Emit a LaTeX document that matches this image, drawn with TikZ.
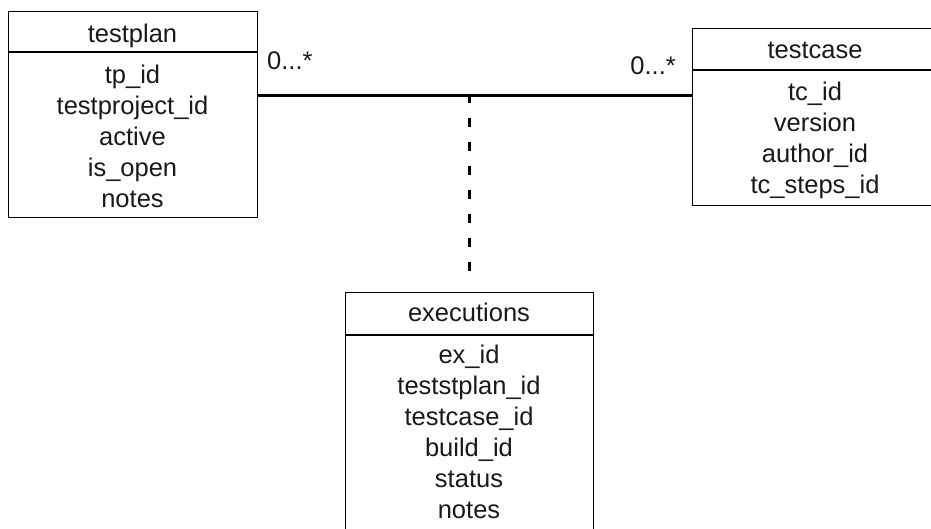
\documentclass[tikz,border=0pt]{standalone}
\usepackage{fontspec}
\setmainfont{Liberation Sans}
\begin{document}
\begin{tikzpicture}[x=1pt, y=-1pt,
  classbox/.style={draw=black, line width=1.3pt, rectangle, inner sep=0pt, anchor=north west},
  divider/.style={draw=black, line width=1.3pt},
  field/.style={anchor=base, inner sep=0pt, font=\fontsize{25.5}{30}\selectfont, text=black!90},
  assocline/.style={draw=black, line width=3.6pt},
  linkline/.style={draw=black, line width=3pt, dash pattern=on 8.5pt off 15.5pt}
]
\useasboundingbox (0,0) rectangle (931,528);
\clip (0,0) rectangle (931,528);
\fill[white] (0,0) rectangle (931,528);

% class testplan
\node[classbox, minimum width=249pt, minimum height=206pt] (tp) at (8,11) {};
\draw[divider] ([yshift=-41pt]tp.north west) -- ([yshift=-41pt]tp.north east);
\node[field] (tphead) at (132.5,42) {testplan};
\foreach \t [count=\i] in {tp\_id, testproject\_id, active, is\_open, notes}
  \node[field] (tpf\i) at (132.5,{83+31*(\i-1)}) {\t};

% class testcase
\node[classbox, minimum width=246pt, minimum height=177pt] (tc) at (692,28) {};
\draw[divider] ([yshift=-42pt]tc.north west) -- ([yshift=-42pt]tc.north east);
\node[field] (tchead) at (815,58) {testcase};
\foreach \t [count=\i] in {tc\_id, version, author\_id, tc\_steps\_id}
  \node[field] (tcf\i) at (815,{100+31*(\i-1)}) {\t};

% class executions
\node[classbox, minimum width=248pt, minimum height=260pt] (ex) at (345,292) {};
\draw[divider] ([yshift=-43pt]ex.north west) -- ([yshift=-43pt]ex.north east);
\node[field] (exhead) at (469,321) {executions};
\foreach \t [count=\i] in {ex\_id, teststplan\_id, testcase\_id, build\_id, status, notes}
  \node[field] (exf\i) at (469,{363+31*(\i-1)}) {\t};

% association testplan -- testcase with its association class
\coordinate (assoc) at (469,95.5);
\coordinate (linkend) at (469,271);
\draw[assocline] (assoc -| tp.east) -- (assoc -| tc.west);
\draw[linkline] ([yshift=1.5pt]assoc) -- (linkend);

% multiplicities
\node[field, anchor=base west] (multl) at (267,69) {0...*};
\node[field, anchor=base east] (multr) at (676,74) {0...*};
\end{tikzpicture}
\end{document}
